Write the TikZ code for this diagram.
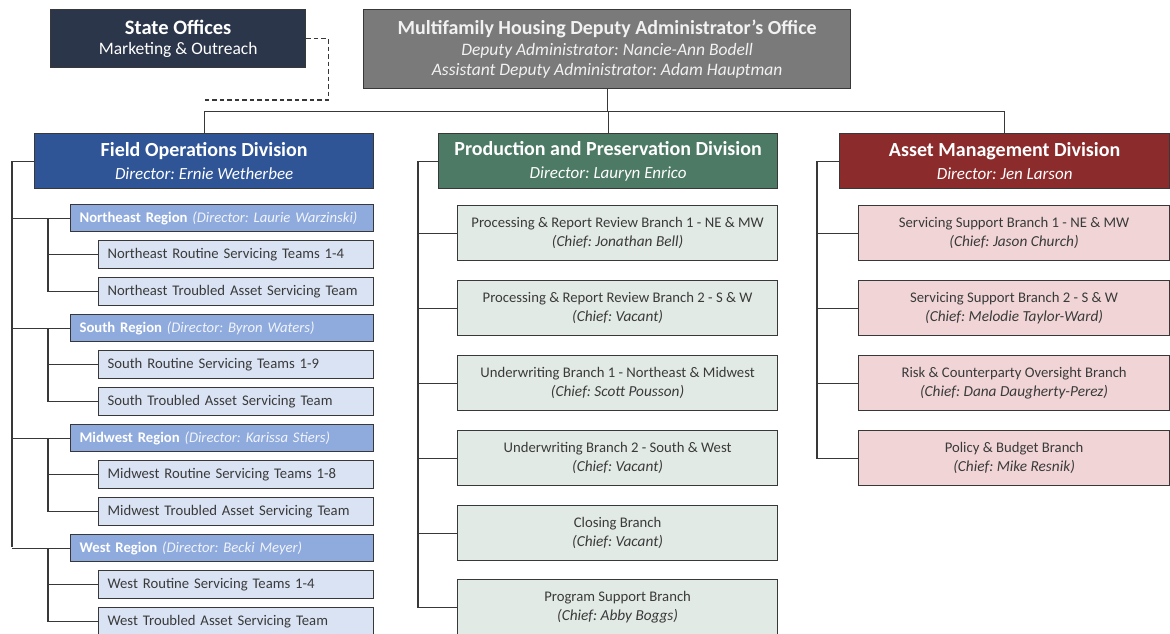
\documentclass[tikz,border=0pt]{standalone}
\usepackage{fontspec}
\setmainfont{Carlito}
\usepackage{xcolor}
\usetikzlibrary{positioning,calc}
\definecolor{edge}{HTML}{383838}
\definecolor{statenavy}{HTML}{2C364B}
\definecolor{depgray}{HTML}{7A7A7A}
\definecolor{fieldblue}{HTML}{2F5597}
\definecolor{regionblue}{HTML}{8FAADC}
\definecolor{teamblue}{HTML}{DAE3F3}
\definecolor{prodgreen}{HTML}{4C7A65}
\definecolor{prodlight}{HTML}{E2EAE5}
\definecolor{assetred}{HTML}{8B2B2B}
\definecolor{assetpink}{HTML}{F1D5D6}
\definecolor{darktext}{HTML}{3A3A3A}
\frenchspacing

\begin{document}
\begin{tikzpicture}[x=1pt, y=-1pt,
    conn/.style={draw=edge, line width=1.2pt},
    dashline/.style={draw=edge, line width=1.6pt, dash pattern=on 4.5pt off 3pt},
    headbox/.style={draw=edge, line width=1.3pt, text=white, align=center, inner sep=0pt,
        anchor=north west, font=\fontsize{17.5}{20.5}\selectfont},
    divbox/.style={headbox, minimum height=55pt, font=\fontsize{17}{23}\selectfont},
    regionbox/.style={draw=edge, line width=1.2pt, fill=regionblue, text=white, anchor=north west,
        text width=285pt, inner xsep=9pt, inner ysep=0pt, minimum height=27pt, align=left,
        font=\fontsize{14.7}{16}\selectfont},
    teambox/.style={draw=edge, line width=1.2pt, fill=teamblue, text=darktext, anchor=north west,
        text width=257pt, inner xsep=9pt, inner ysep=0pt, minimum height=28pt, align=left,
        font=\fontsize{14.7}{16}\selectfont},
    branchbox/.style={draw=edge, line width=1.2pt, text=darktext, anchor=north west, align=center,
        inner sep=0pt, minimum height=55pt, font=\fontsize{14.7}{19.5}\selectfont}
]
\useasboundingbox (0,0) rectangle (1170,633);

% top row
\node[headbox, fill=statenavy, minimum width=255pt, minimum height=58pt] (state) at (50,9)
    {{\fontsize{20.5}{21}\selectfont\bfseries State Offices}\\Marketing \& Outreach};
\node[headbox, fill=depgray, text=white!95!black, minimum width=487pt, minimum height=79pt] (dep) at (363,9)
    {{\fontsize{20}{20.5}\selectfont\bfseries Multifamily Housing Deputy Administrator’s Office}\\
     \itshape Deputy Administrator: Nancie-Ann Bodell\\
     \itshape Assistant Deputy Administrator: Adam Hauptman};

% divisions
\node[divbox, fill=fieldblue, minimum width=339pt] (field) at (34,133)
    {{\fontsize{20}{23}\selectfont\bfseries Field Operations Division}\\\itshape Director: Ernie Wetherbee};
\node[divbox, fill=prodgreen, minimum width=339pt] (prod) at (438,133)
    {{\fontsize{20}{23}\selectfont\bfseries Production and Preservation Division}\\\itshape Director: Lauryn Enrico};
\node[divbox, fill=assetred, minimum width=330pt] (asset) at (839,133)
    {{\fontsize{20}{23}\selectfont\bfseries Asset Management Division}\\\itshape Director: Jen Larson};

\draw[conn] (dep.south) -- ++(0,22) coordinate (bus);
\draw[conn] (field.north) |- (bus) -| (asset.north);
\draw[conn] (prod.north) -- (prod.north |- bus);
\draw[dashline] (state.east) -- ++(22,0) |- (field.north |- 0,100);

% field operations regions
\draw[conn] (field.west) -- (field.west -| 12,0) |- (0,547 -| 12,0);
\foreach \r/\y/\name/\teams/\dir in {NE/204/Northeast/1-4/Laurie Warzinski,
        S/314/South/1-9/Byron Waters, MW/424/Midwest/1-8/Karissa Stiers, W/534/West/1-4/Becki Meyer} {
    \node[regionbox] (r\r) at (70,\y) {\textbf{\name\ Region} {\color{white!88!regionblue}\itshape(Director: \dir)}};
    \node[teambox] (r\r a) at (98,\y+36) {\name\ Routine Servicing Teams \teams};
    \node[teambox] (r\r b) at (98,\y+73) {\name\ Troubled Asset Servicing Team};
    \draw[conn] (r\r.west -| 12,0) -- (r\r.west);
    \draw[conn] (r\r.west -| 48,0) |- (r\r b.west);
    \draw[conn] (r\r a.west -| 48,0) -- (r\r a.west);
}

% production branches
\foreach \i/\y/\title/\chief in {1/205/Processing \& Report Review Branch 1 - NE \& MW/Jonathan Bell,
        2/280/Processing \& Report Review Branch 2 - S \& W/Vacant,
        3/355/Underwriting Branch 1 - Northeast \& Midwest/Scott Pousson,
        4/430/Underwriting Branch 2 - South \& West/Vacant,
        5/505/Closing Branch/Vacant,
        6/579/Program Support Branch/Abby Boggs} {
    \node[branchbox, fill=prodlight, minimum width=320pt] (p\i) at (457,\y) {\title\\{\fontsize{15.3}{19.5}\selectfont\itshape(Chief: \chief)}};
    \draw[conn] (p\i.west -| 418,0) -- (p\i.west);
}
\draw[conn] (prod.west) -- (prod.west -| 418,0) |- (p6.west);

% asset management branches
\foreach \i/\y/\title/\chief in {1/205/Servicing Support Branch 1 - NE \& MW/Jason Church,
        2/280/Servicing Support Branch 2 - S \& W/Melodie Taylor-Ward,
        3/355/Risk \& Counterparty Oversight Branch/Dana Daugherty-Perez,
        4/430/Policy \& Budget Branch/Mike Resnik} {
    \node[branchbox, fill=assetpink, minimum width=311pt] (a\i) at (858,\y) {\title\\{\fontsize{15.3}{19.5}\selectfont\itshape(Chief: \chief)}};
    \draw[conn] (a\i.west -| 817,0) -- (a\i.west);
}
\draw[conn] (asset.west) -- (asset.west -| 817,0) |- (a4.west);
\end{tikzpicture}
\end{document}
